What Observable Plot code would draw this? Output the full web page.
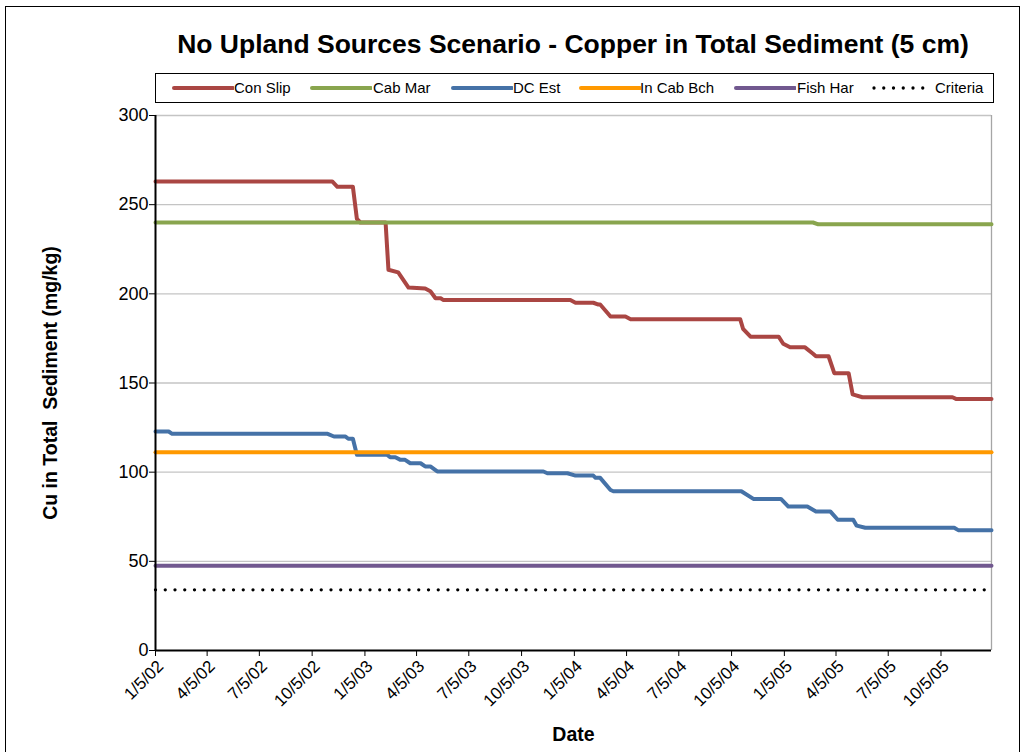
<!DOCTYPE html>
<html>
<head>
<meta charset="utf-8">
<script src="https://cdn.jsdelivr.net/npm/d3@7"></script>
<script src="https://cdn.jsdelivr.net/npm/@observablehq/plot@0.6"></script>
<style>
  html, body { margin: 0; padding: 0; background: #fff; }
  body { font-family: Arial, "Liberation Sans", sans-serif; }
  #wrap { position: relative; width: 1026px; height: 752px; overflow: hidden; }
  #frame { position: absolute; left: 5px; top: 6px; width: 1015px; height: 800px; border: 1px solid #000; box-sizing: border-box; pointer-events: none; }
  #header { position: relative; height: 105px; }
  #title { position: absolute; left: 155px; width: 836px; top: 31px; text-align: center; font-weight: bold; font-size: 26.5px; line-height: 1; color: #000; white-space: nowrap; }
  #legend { position: absolute; left: 155px; top: 73px; width: 839px; height: 30px; border: 1px solid #000; box-sizing: border-box; }
  .lg-sw { position: absolute; top: 0; }
  .lg-tx { position: absolute; top: 6px; font-size: 15px; line-height: 15px; color: #000; white-space: nowrap; }
  #chart svg { display: block; }
</style>
</head>
<body>
<div id="wrap">
  <div id="header">
    <div id="title"></div>
    <div id="legend"></div>
  </div>
  <div id="chart"></div>
  <div id="frame"></div>
</div>
<script>
// ---------------- data ----------------
const chartTitle = "No Upland Sources Scenario - Copper in Total Sediment (5 cm)";
const yLabel = "Cu in Total  Sediment (mg/kg)";
const xLabel = "Date";
const seriesNames = ["Con Slip", "Cab Mar", "DC Est", "In Cab Bch", "Fish Har", "Criteria"];
const seriesColors = ["#AA4643", "#89A54E", "#4572A7", "#FF9900", "#71588F", "#000000"];

const conSlipDates = ["2002-01-05","2002-11-09","2002-11-18","2002-12-15","2002-12-22","2002-12-28","2003-02-10","2003-02-15","2003-03-04","2003-03-22","2003-04-20","2003-04-29","2003-05-08","2003-05-17","2003-05-22","2003-12-29","2004-01-07","2004-02-07","2004-02-16","2004-02-19","2004-03-08","2004-04-03","2004-04-12","2004-10-20","2004-10-25","2004-11-07","2004-12-26","2005-01-03","2005-01-15","2005-02-10","2005-02-24","2005-03-01","2005-03-23","2005-04-02","2005-04-27","2005-05-04","2005-05-21","2005-10-25","2005-11-01","2006-01-01"];
const conSlipValues = [263,263,260,260,242,240,240,213.5,212,203.5,203,201.5,197.5,197.5,196.5,196.5,195,195,194,194,187.3,187.3,185.8,185.8,180.4,176,176,172,170,170,166.4,165,165,155.5,155.5,143.6,142,142,141,141];

const cabMarDates = ["2002-01-05","2005-02-24","2005-03-05","2006-01-01"];
const cabMarValues = [240,240,239,239];

const dcEstDates = ["2002-01-05","2002-01-28","2002-02-03","2002-11-01","2002-11-12","2002-12-02","2002-12-07","2002-12-15","2002-12-22","2003-02-13","2003-02-18","2003-02-27","2003-03-08","2003-03-16","2003-03-25","2003-04-12","2003-04-20","2003-04-29","2003-05-11","2003-11-12","2003-11-19","2003-12-24","2004-01-07","2004-02-07","2004-02-11","2004-02-19","2004-03-08","2004-03-13","2004-10-22","2004-11-12","2004-12-30","2005-01-12","2005-02-14","2005-03-01","2005-03-26","2005-04-08","2005-05-05","2005-05-11","2005-05-26","2005-10-28","2005-11-04","2006-01-01"];
const dcEstValues = [122.8,122.8,121.5,121.5,120,120,118.7,118.7,109.7,109.7,108.4,108.4,106.9,106.9,105,105,103.2,103.2,100.4,100.4,99.4,99.4,98.1,98.1,96.8,96.8,90,89.3,89.3,85,85,80.7,80.7,78,78,73.3,73.3,70,68.8,68.8,67.5,67.5];

const inCabBchDates = ["2002-01-05","2006-01-01"];
const inCabBchValues = [111.2,111.2];

const fishHarDates = ["2002-01-05","2006-01-01"];
const fishHarValues = [47.5,47.5];

const criteriaDates = ["2002-01-05","2006-01-01"];
const criteriaValues = [34,34];

const xDomain = ["2002-01-05","2006-01-01"];
const xTickDates = ["2002-01-05","2002-04-05","2002-07-05","2002-10-05","2003-01-05","2003-04-05","2003-07-05","2003-10-05","2004-01-05","2004-04-05","2004-07-05","2004-10-05","2005-01-05","2005-04-05","2005-07-05","2005-10-05"];
const yTicks = [0,50,100,150,200,250,300];

// ---------------- build ----------------
const parse = s => new Date(s + "T00:00:00Z");
const toRows = (dates, values) => dates.map((d, i) => ({date: parse(d), value: values[i]}));
const fmt = d => `${d.getUTCMonth() + 1}/${d.getUTCDate()}/${String(d.getUTCFullYear()).slice(2)}`;

const allDates = [conSlipDates, cabMarDates, dcEstDates, inCabBchDates, fishHarDates, criteriaDates];
const allValues = [conSlipValues, cabMarValues, dcEstValues, inCabBchValues, fishHarValues, criteriaValues];
const series = seriesNames.map((n, i) => ({name: n, color: seriesColors[i], rows: toRows(allDates[i], allValues[i])}));

document.getElementById("title").textContent = chartTitle;

// legend
const legendSw = [16, 154, 295, 423, 578, 715];
const legendTx = [78, 217, 357, 484, 641, 779];
const legend = document.getElementById("legend");
series.forEach((s, i) => {
  const dotted = s.name === "Criteria";
  const sw = document.createElementNS("http://www.w3.org/2000/svg", "svg");
  sw.setAttribute("class", "lg-sw");
  sw.setAttribute("width", 62); sw.setAttribute("height", 28);
  sw.style.left = legendSw[i] + "px";
  const ln = document.createElementNS("http://www.w3.org/2000/svg", "line");
  ln.setAttribute("x1", dotted ? 3 : 2); ln.setAttribute("x2", dotted ? 56 : 61);
  ln.setAttribute("y1", 14); ln.setAttribute("y2", 14);
  ln.setAttribute("stroke", s.color);
  ln.setAttribute("stroke-linecap", "round");
  ln.setAttribute("stroke-width", dotted ? 3.3 : 4);
  if (dotted) ln.setAttribute("stroke-dasharray", "0 9.75");
  sw.appendChild(ln);
  legend.appendChild(sw);
  const tx = document.createElement("div");
  tx.className = "lg-tx";
  tx.style.left = legendTx[i] + "px";
  tx.textContent = s.name;
  legend.appendChild(tx);
});

const x0 = parse(xDomain[0]), x1 = parse(xDomain[1]);
const xTicks = xTickDates.map(parse);
const lineMarks = series.map(s => Plot.line(s.rows, {
  x: "date", y: "value", stroke: s.color,
  strokeWidth: s.name === "Criteria" ? 3.3 : 4,
  strokeLinecap: "round", strokeLinejoin: "round",
  strokeDasharray: s.name === "Criteria" ? "0 9.75" : null
}));

const chart = Plot.plot({
  width: 1026,
  height: 647,
  marginLeft: 155,
  marginRight: 35,
  marginTop: 10,
  marginBottom: 102,
  style: {fontFamily: "Arial, 'Liberation Sans', sans-serif", fontSize: "17px", color: "#000", background: "transparent", overflow: "visible"},
  x: {type: "utc", domain: [x0, x1]},
  y: {domain: [0, 300]},
  marks: [
    Plot.ruleY(yTicks.filter(d => d > 0), {stroke: "#c4c4c4", strokeWidth: 1.3}),
    Plot.ruleX([x1], {stroke: "#a6a6a6", strokeWidth: 1.3}),
    Plot.axisY({ticks: yTicks, tickSize: 6, tickPadding: 1, fontSize: 18, label: null, stroke: "#000"}),
    Plot.axisX({ticks: xTicks, tickFormat: () => "", tickSize: 6, label: null, stroke: "#000"}),
    Plot.text(xTicks, {x: d => d, text: fmt, frameAnchor: "bottom", rotate: -45, textAnchor: "end", lineAnchor: "middle", dx: 5, dy: 13, fontSize: 17}),
    ...lineMarks,
    Plot.ruleX([x0], {stroke: "#000", strokeWidth: 2}),
    Plot.ruleY([0], {stroke: "#000", strokeWidth: 2}),
    Plot.text([yLabel], {frameAnchor: "left", textAnchor: "middle", rotate: -90, dx: -105, fontWeight: "bold", fontSize: 19.5}),
    Plot.text([xLabel], {frameAnchor: "bottom", dy: 90, fontWeight: "bold", fontSize: 19.5})
  ]
});
document.getElementById("chart").appendChild(chart);
</script>
</body>
</html>
